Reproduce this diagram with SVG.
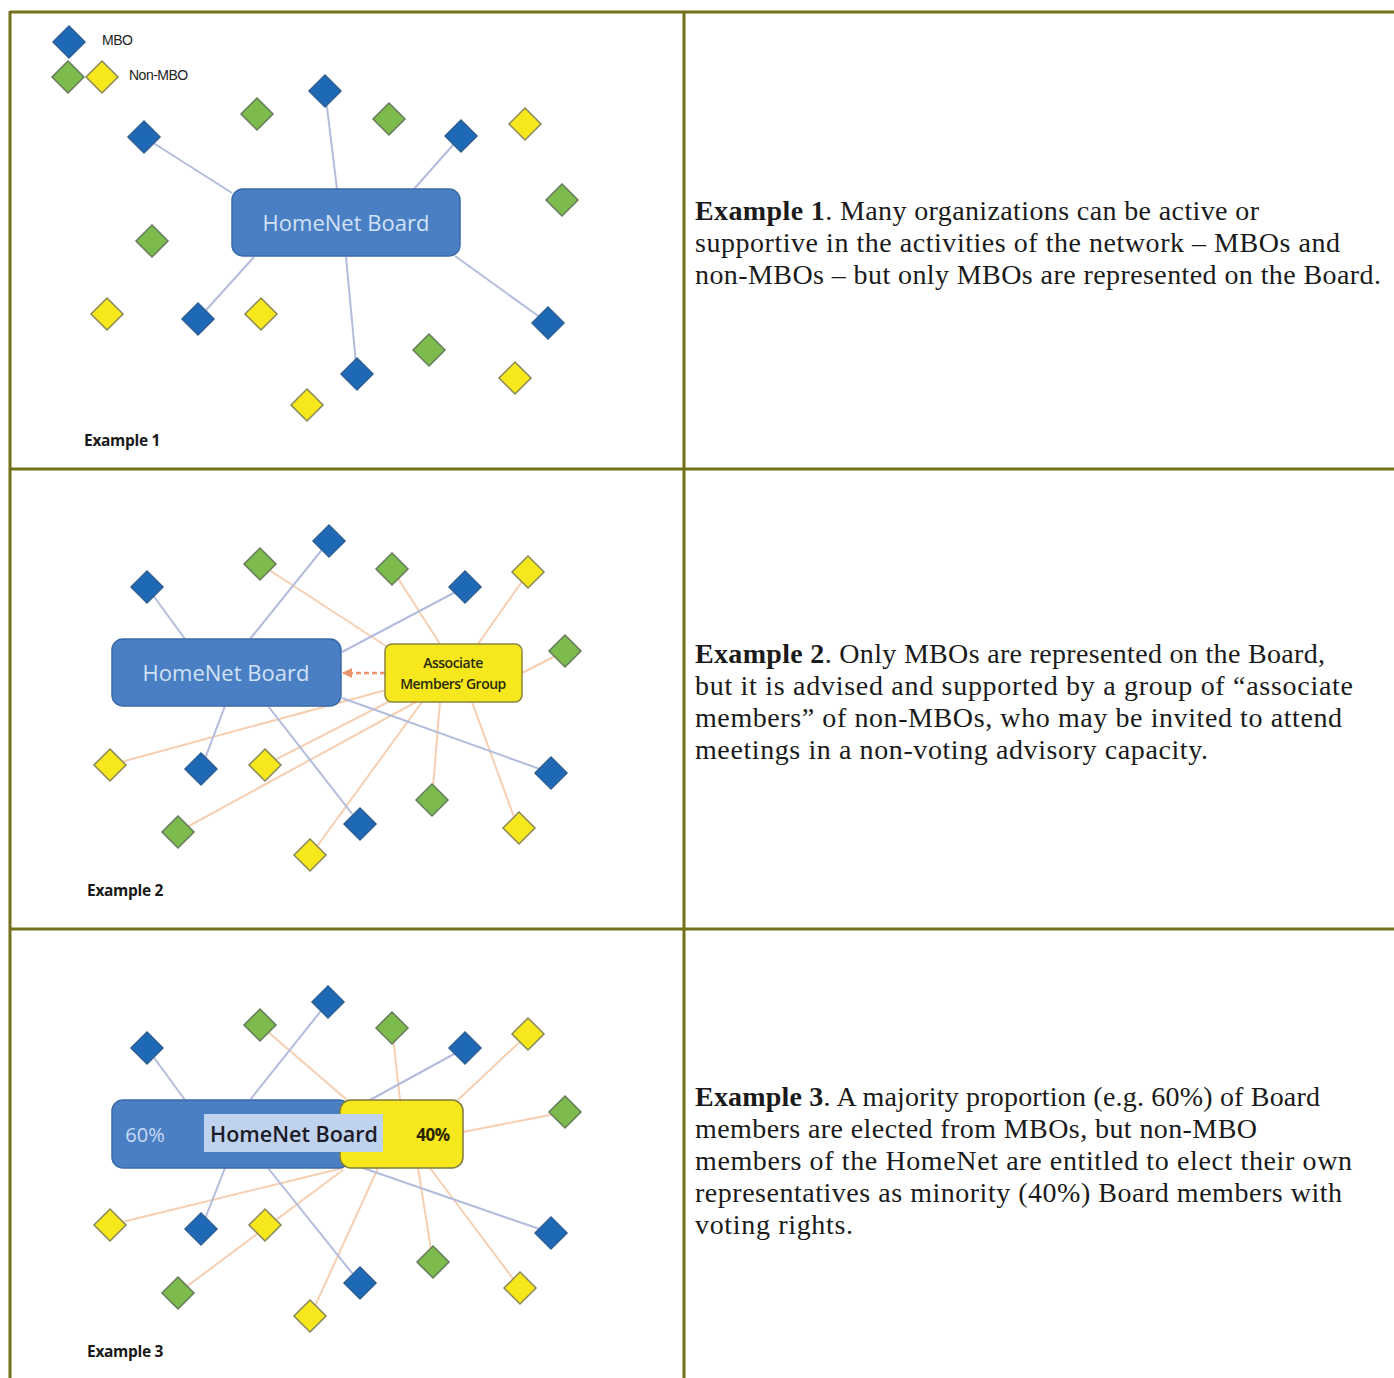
<svg xmlns="http://www.w3.org/2000/svg" xmlns:xlink="http://www.w3.org/1999/xlink" width="1394" height="1378" viewBox="0 0 1394 1378">
<style>
.mbo{fill:#1d69b6;stroke:#2f5e92;stroke-width:1.5}
.grn{fill:#7dbb4c;stroke:#667a5c;stroke-width:1.5}
.yel{fill:#f6e81c;stroke:#86865a;stroke-width:1.5}
.bl{stroke:#b3bcdc;stroke-width:2;fill:none}
.or{stroke:#f6cfb2;stroke-width:2;fill:none}
.board{fill:#4a7fc4;stroke:#3b6aa8;stroke-width:1.5}
.bt{font-family:"Open Sans","Liberation Sans",sans-serif;font-size:22px;fill:#d2e2f6;text-anchor:middle}
.ex{font-family:"Open Sans","Liberation Sans",sans-serif;font-size:15.5px;font-weight:700;fill:#1a1a1a;letter-spacing:-0.3px}
.lg{font-family:"Liberation Sans",Arial,sans-serif;font-size:14px;fill:#222;letter-spacing:-0.5px}
.body{font-family:"Liberation Serif","Times New Roman",serif;font-size:28px;fill:#1a1a1a}
.grid{stroke:#727018;stroke-width:3;fill:none}
</style>
<defs>
<path id="dm" d="M0,-16 L16,0 L0,16 L-16,0Z"/>
<marker id="arr" viewBox="0 0 10 10" refX="9" refY="5" markerWidth="4" markerHeight="4" orient="auto">
<path d="M0,0 L10,5 L0,10Z" fill="#e8956a"/>
</marker>
</defs>
<rect width="1394" height="1378" fill="#ffffff"/>

<g id="table">
<line class="grid" x1="10" y1="12" x2="1394" y2="12"/>
<line class="grid" x1="10" y1="469" x2="1394" y2="469"/>
<line class="grid" x1="10" y1="929" x2="1394" y2="929"/>
<line class="grid" x1="10" y1="11" x2="10" y2="1378"/>
<line class="grid" x1="684" y1="11" x2="684" y2="1378"/>
</g>

<g id="connectors">
<!-- Example 1 -->
<line class="bl" x1="144" y1="137" x2="232" y2="193"/>
<line class="bl" x1="325" y1="91" x2="337" y2="189"/>
<line class="bl" x1="461" y1="136" x2="414" y2="189"/>
<line class="bl" x1="198" y1="319" x2="254" y2="257"/>
<line class="bl" x1="357" y1="374" x2="346" y2="257"/>
<line class="bl" x1="548" y1="323" x2="455" y2="256"/>
<!-- Example 2 -->
<line class="or" x1="260" y1="564" x2="386" y2="646"/>
<line class="or" x1="392" y1="569" x2="440" y2="644"/>
<line class="or" x1="528" y1="573" x2="478" y2="644"/>
<line class="or" x1="565" y1="651" x2="522" y2="673"/>
<line class="or" x1="110" y1="765" x2="386" y2="690"/>
<line class="or" x1="265" y1="765" x2="392" y2="700"/>
<line class="or" x1="178" y1="832" x2="416" y2="702"/>
<line class="or" x1="310" y1="856" x2="422" y2="702"/>
<line class="or" x1="432" y1="800" x2="440" y2="702"/>
<line class="or" x1="518" y1="828" x2="472" y2="702"/>
<line class="bl" x1="147" y1="587" x2="185" y2="639"/>
<line class="bl" x1="329" y1="541" x2="250" y2="639"/>
<line class="bl" x1="465" y1="587" x2="342" y2="652"/>
<line class="bl" x1="201" y1="769" x2="225" y2="706"/>
<line class="bl" x1="360" y1="824" x2="268" y2="706"/>
<line class="bl" x1="551" y1="773" x2="342" y2="698"/>
<line x1="385" y1="673" x2="343" y2="673" stroke="#e8956a" stroke-width="2.5" stroke-dasharray="5,3" marker-end="url(#arr)"/>
<!-- Example 3 -->
<line class="or" x1="260" y1="1025" x2="347" y2="1100"/>
<line class="or" x1="392" y1="1028" x2="400" y2="1100"/>
<line class="or" x1="528" y1="1034" x2="458" y2="1100"/>
<line class="or" x1="565" y1="1112" x2="463" y2="1132"/>
<line class="or" x1="110" y1="1225" x2="343" y2="1168"/>
<line class="or" x1="178" y1="1293" x2="343" y2="1170"/>
<line class="or" x1="310" y1="1317" x2="378" y2="1168"/>
<line class="or" x1="433" y1="1262" x2="418" y2="1168"/>
<line class="or" x1="520" y1="1288" x2="430" y2="1168"/>
<line class="bl" x1="147" y1="1048" x2="185" y2="1100"/>
<line class="bl" x1="328" y1="1002" x2="250" y2="1100"/>
<line class="bl" x1="465" y1="1048" x2="370" y2="1100"/>
<line class="bl" x1="201" y1="1229" x2="225" y2="1168"/>
<line class="bl" x1="360" y1="1283" x2="268" y2="1168"/>
<line class="bl" x1="551" y1="1233" x2="363" y2="1168"/>
</g>

<!-- Legend -->
<g id="legend">
<use xlink:href="#dm" href="#dm" class="mbo" x="69" y="42"/>
<use xlink:href="#dm" href="#dm" class="grn" x="68" y="77"/>
<use xlink:href="#dm" href="#dm" class="yel" x="102" y="77"/>
<text class="lg" x="102" y="45">MBO</text>
<text class="lg" x="129" y="80">Non-MBO</text>
</g>

<!-- Example 1 nodes -->
<g id="ex1-board">
<rect class="board" x="232" y="189" width="228" height="67" rx="11"/>
<text class="bt" x="346" y="231">HomeNet Board</text>
</g>
<g id="ex1-mbo-1"><use href="#dm" class="mbo" x="144" y="137"/></g>
<g id="ex1-mbo-2"><use href="#dm" class="mbo" x="325" y="91"/></g>
<g id="ex1-mbo-3"><use href="#dm" class="mbo" x="461" y="136"/></g>
<g id="ex1-mbo-4"><use href="#dm" class="mbo" x="198" y="319"/></g>
<g id="ex1-mbo-5"><use href="#dm" class="mbo" x="357" y="374"/></g>
<g id="ex1-mbo-6"><use href="#dm" class="mbo" x="548" y="323"/></g>
<g id="ex1-grn-1"><use href="#dm" class="grn" x="257" y="114"/></g>
<g id="ex1-grn-2"><use href="#dm" class="grn" x="389" y="119"/></g>
<g id="ex1-grn-3"><use href="#dm" class="grn" x="562" y="200"/></g>
<g id="ex1-grn-4"><use href="#dm" class="grn" x="152" y="241"/></g>
<g id="ex1-grn-5"><use href="#dm" class="grn" x="429" y="350"/></g>
<g id="ex1-yel-1"><use href="#dm" class="yel" x="525" y="124"/></g>
<g id="ex1-yel-2"><use href="#dm" class="yel" x="107" y="314"/></g>
<g id="ex1-yel-3"><use href="#dm" class="yel" x="261" y="314"/></g>
<g id="ex1-yel-4"><use href="#dm" class="yel" x="515" y="378"/></g>
<g id="ex1-yel-5"><use href="#dm" class="yel" x="307" y="405"/></g>
<text class="ex" x="84" y="446">Example 1</text>

<!-- Example 2 nodes -->
<g id="ex2-board">
<rect class="board" x="112" y="639" width="229" height="67" rx="11"/>
<text class="bt" x="226" y="681">HomeNet Board</text>
</g>
<g id="ex2-assoc">
<rect x="385" y="644" width="137" height="58" rx="7" fill="#f6e81c" stroke="#8a8540" stroke-width="1.5"/>
<text x="453" y="668" font-family="'Open Sans','Liberation Sans',sans-serif" font-size="14" font-weight="600" fill="#2a2a10" text-anchor="middle" letter-spacing="-0.5">Associate</text>
<text x="453" y="689" font-family="'Open Sans','Liberation Sans',sans-serif" font-size="14" font-weight="600" fill="#2a2a10" text-anchor="middle" letter-spacing="-0.5">Members’ Group</text>
</g>
<g id="ex2-mbo-1"><use href="#dm" class="mbo" x="147" y="587"/></g>
<g id="ex2-mbo-2"><use href="#dm" class="mbo" x="329" y="541"/></g>
<g id="ex2-mbo-3"><use href="#dm" class="mbo" x="465" y="587"/></g>
<g id="ex2-mbo-4"><use href="#dm" class="mbo" x="201" y="769"/></g>
<g id="ex2-mbo-5"><use href="#dm" class="mbo" x="360" y="824"/></g>
<g id="ex2-mbo-6"><use href="#dm" class="mbo" x="551" y="773"/></g>
<g id="ex2-grn-1"><use href="#dm" class="grn" x="260" y="564"/></g>
<g id="ex2-grn-2"><use href="#dm" class="grn" x="392" y="569"/></g>
<g id="ex2-grn-3"><use href="#dm" class="grn" x="565" y="651"/></g>
<g id="ex2-grn-4"><use href="#dm" class="grn" x="178" y="832"/></g>
<g id="ex2-grn-5"><use href="#dm" class="grn" x="432" y="800"/></g>
<g id="ex2-yel-1"><use href="#dm" class="yel" x="528" y="572"/></g>
<g id="ex2-yel-2"><use href="#dm" class="yel" x="110" y="765"/></g>
<g id="ex2-yel-3"><use href="#dm" class="yel" x="265" y="765"/></g>
<g id="ex2-yel-4"><use href="#dm" class="yel" x="519" y="828"/></g>
<g id="ex2-yel-5"><use href="#dm" class="yel" x="310" y="855"/></g>
<text class="ex" x="87" y="896">Example 2</text>

<!-- Example 3 nodes -->
<g id="ex3-board">
<rect class="board" x="112" y="1100" width="238" height="68" rx="11"/>
<rect x="340" y="1100" width="123" height="68" rx="11" fill="#f6e81c" stroke="#7d7a3e" stroke-width="1.5"/>
<rect x="204" y="1114" width="179" height="38" fill="#bfd2ee"/>
<text x="145" y="1142" font-family="'Open Sans','Liberation Sans',sans-serif" font-size="20" fill="#c9dcf2" text-anchor="middle">60%</text>
<text x="294" y="1142" font-family="'Open Sans','Liberation Sans',sans-serif" font-size="21.5" font-weight="600" fill="#1c1c28" text-anchor="middle">HomeNet Board</text>
<text x="433" y="1141" font-family="'Open Sans','Liberation Sans',sans-serif" font-size="17" font-weight="700" fill="#2a2200" text-anchor="middle" letter-spacing="-0.5">40%</text>
</g>
<g id="ex3-mbo-1"><use href="#dm" class="mbo" x="147" y="1048"/></g>
<g id="ex3-mbo-2"><use href="#dm" class="mbo" x="328" y="1002"/></g>
<g id="ex3-mbo-3"><use href="#dm" class="mbo" x="465" y="1048"/></g>
<g id="ex3-mbo-4"><use href="#dm" class="mbo" x="201" y="1229"/></g>
<g id="ex3-mbo-5"><use href="#dm" class="mbo" x="360" y="1283"/></g>
<g id="ex3-mbo-6"><use href="#dm" class="mbo" x="551" y="1233"/></g>
<g id="ex3-grn-1"><use href="#dm" class="grn" x="260" y="1025"/></g>
<g id="ex3-grn-2"><use href="#dm" class="grn" x="392" y="1028"/></g>
<g id="ex3-grn-3"><use href="#dm" class="grn" x="565" y="1112"/></g>
<g id="ex3-grn-4"><use href="#dm" class="grn" x="178" y="1293"/></g>
<g id="ex3-grn-5"><use href="#dm" class="grn" x="433" y="1262"/></g>
<g id="ex3-yel-1"><use href="#dm" class="yel" x="528" y="1034"/></g>
<g id="ex3-yel-2"><use href="#dm" class="yel" x="110" y="1225"/></g>
<g id="ex3-yel-3"><use href="#dm" class="yel" x="265" y="1225"/></g>
<g id="ex3-yel-4"><use href="#dm" class="yel" x="520" y="1288"/></g>
<g id="ex3-yel-5"><use href="#dm" class="yel" x="310" y="1316"/></g>
<text class="ex" x="87" y="1357">Example 3</text>

<!-- Right column text -->
<g id="text-1" class="body">
<text x="695" y="220" textLength="564" lengthAdjust="spacing"><tspan font-weight="700">Example 1</tspan>. Many organizations can be active or</text>
<text x="695" y="252" textLength="645" lengthAdjust="spacing">supportive in the activities of the network – MBOs and</text>
<text x="695" y="284" textLength="686" lengthAdjust="spacing">non-MBOs – but only MBOs are represented on the Board.</text>
</g>
<g id="text-2" class="body">
<text x="695" y="663" textLength="630" lengthAdjust="spacing"><tspan font-weight="700">Example 2</tspan>. Only MBOs are represented on the Board,</text>
<text x="695" y="695" textLength="658" lengthAdjust="spacing">but it is advised and supported by a group of “associate</text>
<text x="695" y="727" textLength="647" lengthAdjust="spacing">members” of non-MBOs, who may be invited to attend</text>
<text x="695" y="759" textLength="513" lengthAdjust="spacing">meetings in a non-voting advisory capacity.</text>
</g>
<g id="text-3" class="body">
<text x="695" y="1106" textLength="625" lengthAdjust="spacing"><tspan font-weight="700">Example 3</tspan>. A majority proportion (e.g. 60%) of Board</text>
<text x="695" y="1138" textLength="562" lengthAdjust="spacing">members are elected from MBOs, but non-MBO</text>
<text x="695" y="1170" textLength="657" lengthAdjust="spacing">members of the HomeNet are entitled to elect their own</text>
<text x="695" y="1202" textLength="647" lengthAdjust="spacing">representatives as minority (40%) Board members with</text>
<text x="695" y="1234" textLength="158" lengthAdjust="spacing">voting rights.</text>
</g>
</svg>
